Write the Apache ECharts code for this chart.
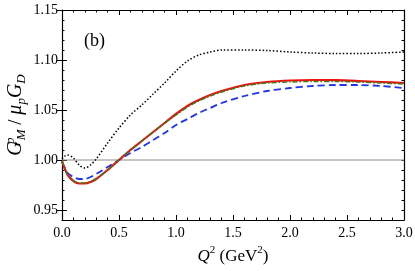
<!DOCTYPE html>
<html>
<head>
<meta charset="utf-8">
<script src="https://cdn.jsdelivr.net/npm/echarts@6/dist/echarts.min.js"></script>
<style>html,body{margin:0;padding:0;background:#fff}#c{width:415px;height:271px}</style>
</head>
<body>
<div id="c"></div>
<script>
const q     = [0, 0.025, 0.05, 0.1, 0.15, 0.2, 0.25, 0.3, 0.4, 0.5, 0.6, 0.7, 0.8, 0.9, 1.0, 1.1, 1.2, 1.3, 1.4, 1.6, 1.8, 2.0, 2.2, 2.4, 2.6, 2.8, 3.0];
const red   = [0.999, 0.991, 0.985, 0.979, 0.9765, 0.9765, 0.978, 0.981, 0.990, 1.000, 1.010, 1.019, 1.028, 1.037, 1.046, 1.054, 1.060, 1.065, 1.069, 1.075, 1.078, 1.0795, 1.080, 1.0798, 1.079, 1.078, 1.077];
const green = [0.999, 0.991, 0.985, 0.979, 0.977, 0.977, 0.9785, 0.9815, 0.990, 1.000, 1.010, 1.019, 1.028, 1.037, 1.045, 1.053, 1.059, 1.064, 1.068, 1.074, 1.077, 1.078, 1.0785, 1.0785, 1.078, 1.077, 1.076];
const blue  = [0.998, 0.992, 0.987, 0.983, 0.981, 0.981, 0.983, 0.986, 0.993, 1.000, 1.007, 1.013, 1.020, 1.027, 1.035, 1.041, 1.047, 1.052, 1.057, 1.064, 1.069, 1.072, 1.074, 1.075, 1.075, 1.074, 1.072];
const black = [1.001, 1.004, 1.005, 1.002, 0.995, 0.992, 0.995, 1.001, 1.017, 1.032, 1.045, 1.055, 1.066, 1.077, 1.089, 1.099, 1.105, 1.108, 1.110, 1.110, 1.1095, 1.108, 1.107, 1.1065, 1.1065, 1.107, 1.108];
const refLine = [1.0, 1.0];
const refQ = [0, 3];
const yTickLabels = [0.95, 1.00, 1.05, 1.10, 1.15];

const pairs = (xs, ys) => xs.map((x, i) => [x, ys[i]]);
const serif = '"Liberation Serif", "DejaVu Serif", serif';

const chart = echarts.init(document.getElementById('c'));
const xBase = {
  type: 'value', min: 0, max: 3, interval: 0.5,
  axisLine: {show: true, onZero: false, lineStyle: {color: '#000', width: 1.2}},
  axisTick: {show: true, inside: true, length: 5, lineStyle: {color: '#000'}},
  minorTick: {show: true, splitNumber: 5, length: 2.5, lineStyle: {color: '#000'}},
  splitLine: {show: false}
};
const yMinor = {
  type: 'value', min: 0.94, max: 1.15, interval: 0.01,
  axisLine: {show: true, onZero: false, lineStyle: {color: '#000', width: 1.2}},
  axisTick: {show: true, inside: true, length: 2.5, lineStyle: {color: '#000'}},
  axisLabel: {show: false},
  splitLine: {show: false}
};
const yMajor = {
  type: 'value', min: 0.94, max: 1.15,
  axisLine: {show: false},
  axisTick: {show: true, inside: true, length: 5, customValues: yTickLabels, lineStyle: {color: '#000'}},
  splitLine: {show: false}
};
chart.setOption({
  animation: false,
  grid: {left: 62, right: 11, top: 10, bottom: 51, containLabel: false, outerBoundsMode: 'none'},
  xAxis: [
    Object.assign({}, xBase, {
      position: 'bottom',
      axisLabel: {show: true, color: '#000', fontFamily: serif, fontSize: 14, margin: 6,
        formatter: v => v.toFixed(1)},
      name: '{i|Q}{sup|2}{n| (GeV}{sup|2}{n|)}',
      nameLocation: 'middle', nameGap: 19,
      nameTextStyle: {fontFamily: serif, fontSize: 17, color: '#000',
        rich: {
          i: {fontFamily: serif, fontSize: 17, fontStyle: 'italic', color: '#000', lineHeight: 20, verticalAlign: 'bottom'},
          n: {fontFamily: serif, fontSize: 17, color: '#000', lineHeight: 20, verticalAlign: 'bottom'},
          sup: {fontFamily: serif, fontSize: 11, color: '#000', lineHeight: 11, verticalAlign: 'top'}
        }}
    }),
    Object.assign({}, xBase, {position: 'top', axisLabel: {show: false}})
  ],
  yAxis: [
    Object.assign({}, yMinor, {
      position: 'left',
      name: '{i|G}{supw|p}{sub|M}{n| / }{i|μ}{sub|p}{i|G}{sub|D}',
      nameLocation: 'middle', nameGap: 34,
      nameTextStyle: {fontFamily: serif, fontSize: 20, color: '#000',
        rich: {
          i: {fontFamily: serif, fontSize: 20, fontStyle: 'italic', color: '#000', lineHeight: 24},
          n: {fontFamily: serif, fontSize: 19, color: '#000', lineHeight: 24},
          supw: {fontFamily: serif, fontSize: 13, fontStyle: 'italic', color: '#000', lineHeight: 11, verticalAlign: 'top', width: 1},
          sub: {fontFamily: serif, fontSize: 13, fontStyle: 'italic', color: '#000', lineHeight: 11, verticalAlign: 'bottom'}
        }}
    }),
    Object.assign({}, yMajor, {
      position: 'left',
      axisLabel: {show: true, customValues: yTickLabels, color: '#000', fontFamily: serif, fontSize: 14, margin: 4,
        formatter: v => v.toFixed(2)}
    }),
    Object.assign({}, yMinor, {position: 'right'}),
    Object.assign({}, yMajor, {position: 'right', axisLabel: {show: false}})
  ],
  graphic: [{
    type: 'text', left: 84, top: 32,
    style: {text: '(b)', font: '18px ' + serif, fill: '#000'}
  }],
  series: [
    {type: 'line', data: pairs(refQ, refLine), symbol: 'none', silent: true,
     lineStyle: {color: '#8c8c8c', width: 1}, z: 1},
    {type: 'line', data: pairs(q, black), symbol: 'none', smooth: 0.3,
     lineStyle: {color: '#000', width: 1.5, type: [1.5, 2]}, z: 2},
    {type: 'line', data: pairs(q, blue), symbol: 'none', smooth: 0.3,
     lineStyle: {color: '#1f33f0', width: 1.8, type: [7, 4]}, z: 3},
    {type: 'line', data: pairs(q, red), symbol: 'none', smooth: 0.3,
     lineStyle: {color: '#f01010', width: 2.2}, z: 4},
    {type: 'line', data: pairs(q, green), symbol: 'none', smooth: 0.3,
     lineStyle: {color: '#3d7a1a', width: 1.5, type: [5, 2, 1.5, 2]}, z: 5}
  ]
});
</script>
</body>
</html>
